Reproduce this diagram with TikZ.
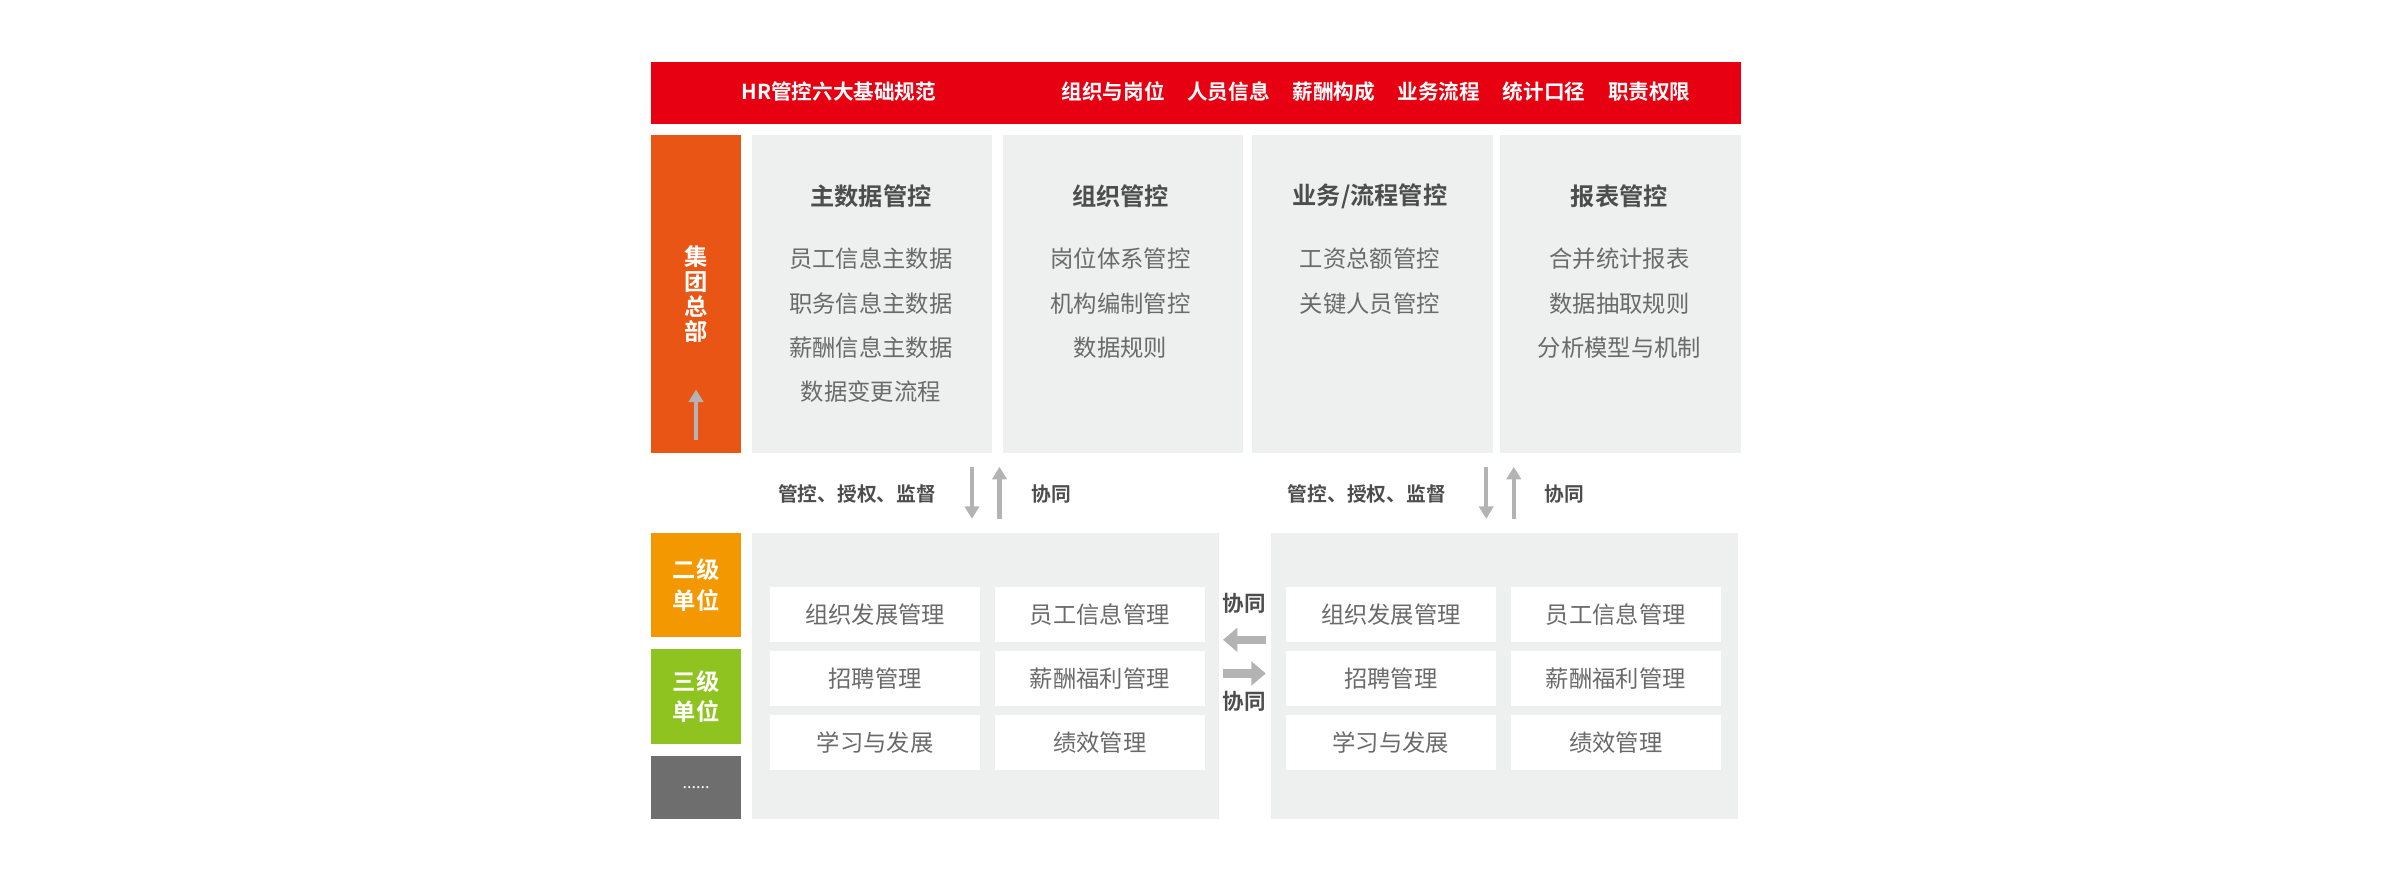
\documentclass[tikz,border=0pt]{standalone}
\usepackage{fontspec}
\setmainfont{Noto Sans CJK SC}[BoldFont={Noto Sans CJK SC Bold}]
\usetikzlibrary{arrows.meta, positioning}
\definecolor{hrred}{HTML}{E60012}
\definecolor{hqorange}{HTML}{E95514}
\definecolor{lvorange}{HTML}{F39800}
\definecolor{lvgreen}{HTML}{8FC31F}
\definecolor{lvgray}{HTML}{6E6E6E}
\definecolor{panelgray}{HTML}{EEEFEF}
\definecolor{txtgray}{HTML}{6A6A6A}
\definecolor{headgray}{HTML}{4D4D4D}
\definecolor{arrgray}{HTML}{B3B3B3}
\tikzset{
  block/.style={rectangle, anchor=north west, inner sep=0pt, draw=none},
  level/.style={block, minimum width=1.77cm, text=white, font=\bfseries\fontsize{13}{17}\selectfont, align=center},
  column/.style={block, fill=panelgray, minimum width=4.71cm, minimum height=6.24cm},
  panel/.style={block, fill=panelgray, minimum width=9.15cm, minimum height=5.61cm},
  item/.style={block, fill=white, minimum width=4.11cm, minimum height=1.08cm, text=txtgray, font=\fontsize{13}{16}\selectfont},
  head/.style={text=headgray, font=\bfseries\fontsize{13.5}{16}\selectfont},
  list/.style={anchor=north, text=txtgray, align=center, font=\fontsize{13}{24.7}\selectfont},
  note/.style={text=headgray, font=\bfseries\fontsize{11}{14}\selectfont},
  arrow/.style={arrgray, line width=2.4pt, -{Triangle[length=7pt,width=8pt]}},
  fatarrow/.style={arrgray, line width=4.5pt, -{Triangle[length=8pt,width=13pt]}}
}
\begin{document}
\begin{tikzpicture}[x=0.03cm, y=-0.03cm]
\useasboundingbox (0,0) rectangle (1568,572);
% top bar
\node (norm) [block, fill=hrred, minimum width=21.36cm, minimum height=1.23cm] at (425,40) {};
\node [text=white, font=\bfseries\fontsize{11.5}{14}\selectfont] at (548,60) {HR管控六大基础规范};
\node [text=white, font=\bfseries\fontsize{11.5}{14}\selectfont] at (899,60) {组织与岗位\hspace{1.1em}人员信息\hspace{1.1em}薪酬构成\hspace{1.1em}业务流程\hspace{1.1em}统计口径\hspace{1.1em}职责权限};
% group level
\node (hq) [level, fill=hqorange, minimum height=6.24cm] at (425,88) {集\\[-3pt]团\\[-3pt]总\\[-3pt]部};
\node (masterdata) [column] at (491,88) {};
\node (orgctl) [column] at (655,88) {};
\node (flowctl) [column] at (818,88) {};
\node (reportctl) [column] at (980,88) {};
\node [head] at (569,128) {主数据管控};
\node [head] at (732,128) {组织管控};
\node [head] at (895,128) {业务/流程管控};
\node [head] at (1058,128) {报表管控};
\node [list] at (569,158) {员工信息主数据\\职务信息主数据\\薪酬信息主数据\\数据变更流程};
\node [list] at (732,158) {岗位体系管控\\机构编制管控\\数据规则};
\node [list] at (895,158) {工资总额管控\\关键人员管控};
\node [list] at (1058,158) {合并统计报表\\数据抽取规则\\分析模型与机制};
% lower levels
\node (second) [level, fill=lvorange, minimum height=2.04cm] at (425,348) {二级\\单位};
\node (third) [level, fill=lvgreen, minimum height=1.86cm] at (425,424) {三级\\单位};
\node (more) [level, fill=lvgray, minimum height=1.23cm, font=\fontsize{9}{10}\selectfont] at (425,494) {......};
\draw [arrow] (hq.south) ++(0,-9) coordinate (hqdown) -- ++(0,-33);
% left panel
\node (leftunit) [panel] at (491,348) {};
\node (rightunit) [panel] at (830,348) {};
\foreach \px/\side in {503/l, 840/r} {
  \node (\side a) [item] at (\px,383) {组织发展管理};
  \node (\side b) [item, right=8pt of \side a.north east, anchor=north west] {员工信息管理};
  \node (\side c) [item] at (\px,425) {招聘管理};
  \node (\side d) [item, right=8pt of \side c.north east, anchor=north west] {薪酬福利管理};
  \node (\side e) [item] at (\px,467) {学习与发展};
  \node (\side f) [item, right=8pt of \side e.north east, anchor=north west] {绩效管理};
}
% control arrows
\node [note] at (560,323) {管控、授权、监督};
\node [note] at (687,323) {协同};
\node [note] at (893,323) {管控、授权、监督};
\node [note] at (1022,323) {协同};
\draw [arrow] (635,305) -- (635,339);
\draw [arrow] (653,339) -- (653,305);
\draw [arrow] (971,305) -- (971,339);
\draw [arrow] (989,339) -- (989,305);
% between panels
\node (coopup) [note, font=\bfseries\fontsize{12}{14}\selectfont] at (813,394) {协同};
\node (coopdown) [note, font=\bfseries\fontsize{12}{14}\selectfont] at (813,458) {协同};
\draw [fatarrow] (827,418) -- (799,418);
\draw [fatarrow] (799,440) -- (827,440);
\end{tikzpicture}
\end{document}
